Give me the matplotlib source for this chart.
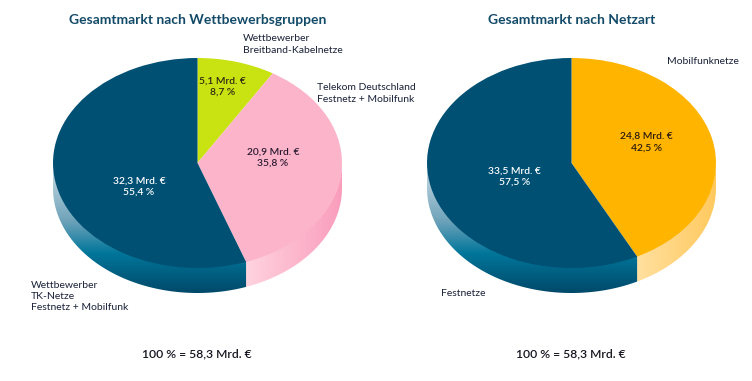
import numpy as np
import matplotlib
matplotlib.use("Agg")
import matplotlib.pyplot as plt
from matplotlib.patches import PathPatch
from matplotlib.path import Path
from matplotlib.colors import LinearSegmentedColormap

plt.rcParams['font.family'] = ['Lato', 'DejaVu Sans']

W, H = 752, 381
RX, RY, DEPTH = 144.5, 105, 25   # pie geometry in pixels
TOP = 58

groups_vals = [8.7, 35.8, 55.4]
groups_colors = ['#c8e212', '#fcb4cb', '#005073']
groups_value_labels = ['5,1 Mrd. €\n8,7 %', '20,9 Mrd. €\n35,8 %', '32,3 Mrd. €\n55,4 %']
net_vals = [42.5, 57.5]
net_colors = ['#ffb400', '#005073']
net_value_labels = ['24,8 Mrd. €\n42,5 %', '33,5 Mrd. €\n57,5 %']

BLUE_SIDE = LinearSegmentedColormap.from_list('b', [(0, '#00496a'), (0.30, '#00769a'), (0.55, '#6fa3ba'), (1, '#d5e2e9')])
PINK_SIDE = LinearSegmentedColormap.from_list('p', ['#ffd3e0', '#fa9dbc'])
ORANGE_SIDE = LinearSegmentedColormap.from_list('o', ['#ffe09f', '#ffc95e'])

fig = plt.figure(figsize=(W / 100, H / 100), dpi=100, facecolor='white')


def px_text(x, y, s, **kw):
    kw.setdefault('va', 'center')
    kw.setdefault('ha', 'left')
    kw.setdefault('linespacing', 1.34)
    fig.text(x / W, 1 - y / H, s, **kw)


def pie3d(cx, vals, colors, side_maps):
    d = DEPTH / RY
    ax = fig.add_axes([(cx - RX) / W, 1 - (TOP + 2 * RY + DEPTH) / H, 2 * RX / W, (2 * RY + DEPTH) / H])
    wedges, _ = ax.pie(vals, colors=colors, startangle=90, counterclock=False, radius=1,
                       wedgeprops=dict(linewidth=0, zorder=5))
    ax.set_aspect('auto')
    for w, cmap_info in zip(wedges, side_maps):
        w.set_clip_on(False)
        a1, a2 = w.theta1, w.theta2
        # visible (lower) part of the wheel rim
        for t1, t2 in [(a1, a2), (a1 + 360, a2 + 360), (a1 - 360, a2 - 360)]:
            s, e = max(t1, 180), min(t2, 360)
            if e > s:
                th = np.radians(np.linspace(s, e, 120))
                x, y = np.cos(th), np.sin(th)
                verts = np.r_[np.c_[x, y + 0.01], np.c_[x[::-1], y[::-1] - d]]
                clip = PathPatch(Path(np.r_[verts, verts[:1]], closed=True), fc='none', ec='none',
                                 transform=ax.transData)
                ax.add_patch(clip)
                cmap, mode = cmap_info
                if mode == 'v':
                    g = np.linspace(0, 1, 256).reshape(-1, 1)
                else:
                    g = np.linspace(0, 1, 256).reshape(1, -1)
                im = ax.imshow(g, cmap=cmap, origin='lower', aspect='auto', zorder=2,
                               extent=(x.min(), x.max(), (y - d).min(), y.max() + 0.01))
                im.set_clip_path(clip)
    ax.set_xlim(-1, 1)
    ax.set_ylim(-1 - d, 1)
    ax.axis('off')
    return ax


pie3d(197.5, groups_vals, groups_colors,
      [(PINK_SIDE, 'h'), (PINK_SIDE, 'h'), (BLUE_SIDE, 'v')])
pie3d(571.5, net_vals, net_colors, [(ORANGE_SIDE, 'h'), (BLUE_SIDE, 'v')])

TITLE = dict(fontsize=10, fontweight='bold', color='#134a68', ha='center')
px_text(197.5, 20, 'Gesamtmarkt nach Wettbewerbsgruppen', **TITLE)
px_text(571.5, 20, 'Gesamtmarkt nach Netzart', **TITLE)

LAB = dict(fontsize=7.5, color='#1a2238')
px_text(243, 44.5, 'Wettbewerber\nBreitband-Kabelnetze', **LAB)
px_text(317, 93.5, 'Telekom Deutschland\nFestnetz + Mobilfunk', **LAB)
px_text(31, 296.5, 'Wettbewerber\nTK-Netze\nFestnetz + Mobilfunk', **LAB)
px_text(667, 62, 'Mobilfunknetze', **LAB)
px_text(441, 293, 'Festnetze', **LAB)

VAL = dict(fontsize=7.4, ha='center', fontweight='semibold')
px_text(222.5, 86.5, groups_value_labels[0], color='#2a2a10', **VAL)
px_text(273, 157.5, groups_value_labels[1], color='#2a1a30', **VAL)
px_text(139, 186.5, groups_value_labels[2], color='white', **VAL)
px_text(646.5, 142, net_value_labels[0], color='#2a1a10', **VAL)
px_text(514.5, 176.5, net_value_labels[1], color='white', **VAL)

FOOT = dict(fontsize=8.7, ha='center', color='#151520', fontweight='semibold')
px_text(197, 354, '100 % = 58,3 Mrd. €', **FOOT)
px_text(571, 354, '100 % = 58,3 Mrd. €', **FOOT)

fig.savefig('out.png', dpi=100)
